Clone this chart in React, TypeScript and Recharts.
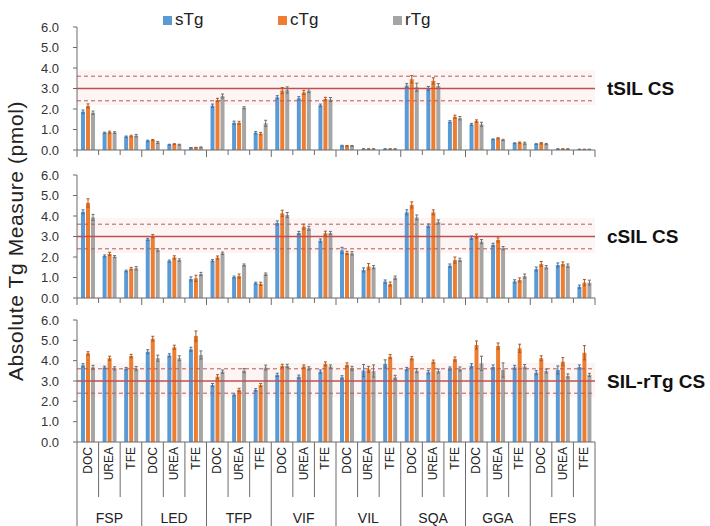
import { BarChart, Bar, XAxis, YAxis, ReferenceLine, ReferenceArea, ErrorBar } from 'recharts';

const groups = ['FSP', 'LED', 'TFP', 'VIF', 'VIL', 'SQA', 'GGA', 'EFS'];
const methods = ['DOC', 'UREA', 'TFE'];
const yTicks = [0, 1, 2, 3, 4, 5, 6];

// tSIL CS panel
const tS = [1.87, 0.84, 0.65, 0.45, 0.26, 0.11, 2.16, 1.33, 0.84, 2.57, 2.52, 2.18, 0.21, 0.05, 0.05, 3.14, 3.0, 1.38, 1.25, 0.52, 0.33, 0.29, 0.05, 0.03];
const tC = [2.15, 0.87, 0.68, 0.48, 0.29, 0.12, 2.44, 1.33, 0.8, 2.9, 2.81, 2.49, 0.2, 0.05, 0.05, 3.45, 3.37, 1.62, 1.41, 0.57, 0.36, 0.33, 0.05, 0.03];
const tR = [1.82, 0.85, 0.7, 0.37, 0.26, 0.13, 2.63, 2.06, 1.3, 2.93, 2.9, 2.46, 0.2, 0.05, 0.05, 3.06, 3.12, 1.55, 1.25, 0.49, 0.33, 0.29, 0.05, 0.03];
const tSe = [0.08, 0.03, 0.03, 0.03, 0.02, 0.01, 0.08, 0.08, 0.06, 0.08, 0.08, 0.06, 0.02, 0.01, 0.01, 0.1, 0.1, 0.05, 0.05, 0.02, 0.02, 0.02, 0.01, 0.01];
const tCe = [0.1, 0.05, 0.04, 0.03, 0.02, 0.01, 0.08, 0.07, 0.06, 0.15, 0.1, 0.08, 0.02, 0.01, 0.01, 0.18, 0.15, 0.08, 0.06, 0.03, 0.03, 0.03, 0.01, 0.01];
const tRe = [0.08, 0.04, 0.06, 0.05, 0.02, 0.02, 0.1, 0.05, 0.15, 0.15, 0.1, 0.1, 0.02, 0.01, 0.01, 0.2, 0.12, 0.08, 0.1, 0.03, 0.05, 0.03, 0.01, 0.01];

// cSIL CS panel
const cS = [4.2, 2.05, 1.32, 2.86, 1.8, 0.93, 1.82, 1.02, 0.72, 3.66, 3.17, 2.8, 2.32, 1.37, 0.8, 4.18, 3.53, 1.58, 2.94, 2.59, 0.81, 1.41, 1.61, 0.55];
const cC = [4.64, 2.15, 1.43, 3.02, 1.98, 0.96, 1.97, 1.07, 0.69, 4.13, 3.48, 3.16, 2.2, 1.53, 0.68, 4.54, 4.18, 1.85, 3.02, 2.83, 0.88, 1.66, 1.66, 0.75];
const cR = [3.93, 2.02, 1.45, 2.34, 1.85, 1.17, 2.18, 1.61, 1.16, 4.05, 3.4, 3.17, 2.18, 1.5, 0.99, 3.93, 3.71, 1.86, 2.75, 2.43, 1.07, 1.5, 1.58, 0.75];
const cSe = [0.1, 0.05, 0.04, 0.05, 0.05, 0.1, 0.05, 0.05, 0.05, 0.1, 0.08, 0.08, 0.15, 0.1, 0.08, 0.12, 0.08, 0.08, 0.08, 0.08, 0.08, 0.1, 0.1, 0.08];
const cCe = [0.2, 0.08, 0.06, 0.08, 0.08, 0.15, 0.08, 0.1, 0.08, 0.15, 0.12, 0.1, 0.08, 0.15, 0.1, 0.15, 0.12, 0.15, 0.1, 0.1, 0.1, 0.12, 0.1, 0.15];
const cRe = [0.15, 0.05, 0.08, 0.06, 0.06, 0.08, 0.06, 0.05, 0.06, 0.12, 0.1, 0.08, 0.08, 0.08, 0.08, 0.12, 0.1, 0.08, 0.1, 0.08, 0.1, 0.08, 0.08, 0.12];

// SIL-rTg CS panel
const rS = [3.77, 3.67, 3.61, 4.44, 4.26, 4.56, 2.8, 2.31, 2.56, 3.3, 3.21, 3.46, 3.18, 3.51, 3.84, 3.59, 3.43, 3.61, 3.75, 3.69, 3.67, 3.41, 3.54, 3.69];
const rC = [4.36, 4.12, 4.23, 5.08, 4.66, 5.21, 3.21, 2.56, 2.8, 3.74, 3.71, 3.84, 3.79, 3.57, 4.2, 4.12, 3.95, 4.08, 4.77, 4.72, 4.61, 4.12, 3.95, 4.39];
const rR = [3.67, 3.62, 3.61, 4.12, 4.12, 4.28, 3.46, 3.51, 3.66, 3.74, 3.62, 3.71, 3.62, 3.49, 3.18, 3.51, 3.49, 3.59, 3.87, 3.54, 3.71, 3.49, 3.25, 3.3];
const rSe = [0.08, 0.06, 0.06, 0.1, 0.08, 0.1, 0.08, 0.05, 0.06, 0.08, 0.08, 0.08, 0.08, 0.3, 0.2, 0.08, 0.08, 0.08, 0.1, 0.1, 0.1, 0.1, 0.2, 0.1];
const rCe = [0.08, 0.1, 0.08, 0.12, 0.1, 0.25, 0.1, 0.08, 0.08, 0.08, 0.08, 0.1, 0.1, 0.15, 0.1, 0.08, 0.08, 0.1, 0.2, 0.15, 0.2, 0.12, 0.2, 0.35];
const rRe = [0.1, 0.08, 0.1, 0.15, 0.12, 0.2, 0.08, 0.1, 0.12, 0.08, 0.08, 0.08, 0.1, 0.3, 0.1, 0.1, 0.1, 0.1, 0.35, 0.35, 0.1, 0.1, 0.1, 0.08];

const FONT = '"Liberation Sans", Arial, sans-serif';
const BLUE = '#5B9BD5';
const ORANGE = '#ED7D31';
const GRAY = '#A5A5A5';
const AXIS = '#6b6b6b';
const PLOT_W = 518;
const BAND = PLOT_W / 24;

const makeRows = (s: number[], c: number[], r: number[], se: number[], ce: number[], re: number[]) =>
  groups.flatMap((g, gi) =>
    methods.map((m, mi) => {
      const i = gi * 3 + mi;
      return { name: `${g}-${m}`, s: s[i], c: c[i], r: r[i], se: se[i], ce: ce[i], re: re[i] };
    })
  );

// small boundary ticks for the upper panels
const BoundaryTick = (props: any) => {
  const { x, y, index } = props;
  const h = index % 3 === 0 ? 7 : 5;
  return (
    <g>
      <line x1={x - BAND / 2} x2={x - BAND / 2} y1={y} y2={y + h} stroke={AXIS} />
      {index === 23 && <line x1={x + BAND / 2} x2={x + BAND / 2} y1={y} y2={y + 7} stroke={AXIS} />}
    </g>
  );
};

// two-level category axis for the bottom panel
const CategoryTick = (props: any) => {
  const { x, y, index } = props;
  const first = index % 3 === 0;
  const method = methods[index % 3];
  return (
    <g>
      <line x1={x - BAND / 2} x2={x - BAND / 2} y1={y} y2={first ? y + 84 : y + 55} stroke={AXIS} />
      {index === 23 && <line x1={x + BAND / 2} x2={x + BAND / 2} y1={y} y2={y + 84} stroke={AXIS} />}
      <text
        x={x + 4}
        y={y + 5}
        transform={`rotate(-90, ${x + 4}, ${y + 5})`}
        textAnchor="end"
        fontSize={12}
        fontFamily={FONT}
        fill="#222"
      >
        {method}
      </text>
      {index % 3 === 1 && (
        <text x={x} y={y + 81} textAnchor="middle" fontSize={14} fontFamily={FONT} fill="#222">
          {groups[Math.floor(index / 3)]}
        </text>
      )}
    </g>
  );
};

interface PanelProps {
  top: number;
  height: number;
  marginTop: number;
  axisHeight: number;
  rows: any[];
  label: string;
  bottomAxis?: boolean;
}

const Panel = ({ top, height, marginTop, axisHeight, rows, label, bottomAxis }: PanelProps) => (
  <div style={{ position: 'absolute', left: 0, top }}>
    <BarChart
      width={710}
      height={height}
      data={rows}
      margin={{ top: marginTop, right: 115, left: 40, bottom: 0 }}
      barSize={4}
      barGap={1}
    >
      <ReferenceArea y1={2.2} y2={3.9} fill="#fdf4f4" fillOpacity={1} stroke="none" />
      <XAxis
        dataKey="name"
        interval={0}
        height={axisHeight}
        tickSize={0}
        tickMargin={0}
        tickLine={false}
        axisLine={{ stroke: AXIS }}
        tick={bottomAxis ? <CategoryTick /> : <BoundaryTick />}
      />
      <YAxis
        domain={[0, 6]}
        ticks={yTicks}
        interval={0}
        width={37}
        tickSize={4}
        tickMargin={14}
        tickFormatter={(v: number) => v.toFixed(1)}
        tick={{ fontSize: 13, fill: '#333', fontFamily: FONT }}
        axisLine={{ stroke: AXIS }}
        tickLine={{ stroke: AXIS }}
      />
      <Bar dataKey="s" fill={BLUE} isAnimationActive={false}>
        <ErrorBar dataKey="se" width={1.5} stroke="#4a6f99" strokeWidth={1} direction="y" />
      </Bar>
      <Bar dataKey="c" fill={ORANGE} isAnimationActive={false}>
        <ErrorBar dataKey="ce" width={1.5} stroke="#a85a24" strokeWidth={1} direction="y" />
      </Bar>
      <Bar dataKey="r" fill={GRAY} isAnimationActive={false}>
        <ErrorBar dataKey="re" width={1.5} stroke="#6f6f6f" strokeWidth={1} direction="y" />
      </Bar>
      <ReferenceLine y={3.6} stroke="#b55a5a" strokeDasharray="4 3" />
      <ReferenceLine y={2.4} stroke="#b55a5a" strokeDasharray="4 3" />
      <ReferenceLine
        y={3}
        stroke="#c0504d"
        strokeWidth={1.5}
        label={{ value: label, position: 'right', offset: 12, fontSize: 19, fontWeight: 'bold', fill: '#111', fontFamily: FONT }}
      />
    </BarChart>
  </div>
);

const legendItems = [
  { name: 'sTg', color: BLUE, left: 163 },
  { name: 'cTg', color: ORANGE, left: 278 },
  { name: 'rTg', color: GRAY, left: 393 },
];

export default function App() {
  return (
    <div style={{ position: 'absolute', left: 0, top: 0, width: 710, height: 526, background: '#fff', fontFamily: FONT, overflow: 'hidden' }}>
      {legendItems.map((it) => (
        <div key={it.name} style={{ position: 'absolute', left: it.left, top: 10, display: 'flex', alignItems: 'center', fontSize: 17, color: '#222' }}>
          <span style={{ display: 'inline-block', width: 9, height: 9, background: it.color, marginRight: 3 }} />
          {it.name}
        </div>
      ))}
      <Panel top={0} height={160} marginTop={27} axisHeight={10} rows={makeRows(tS, tC, tR, tSe, tCe, tRe)} label="tSIL CS" />
      <Panel top={150} height={160} marginTop={25} axisHeight={12} rows={makeRows(cS, cC, cR, cSe, cCe, cRe)} label="cSIL CS" />
      <Panel top={300} height={226} marginTop={20} axisHeight={84} rows={makeRows(rS, rC, rR, rSe, rCe, rRe)} label="SIL-rTg CS" bottomAxis />
      <div
        style={{
          position: 'absolute',
          left: 16,
          top: 241,
          transform: 'translate(-50%, -50%) rotate(-90deg)',
          whiteSpace: 'nowrap',
          fontSize: 21,
          letterSpacing: 0.6,
          color: '#222',
        }}
      >
        Absolute Tg Measure (pmol)
      </div>
    </div>
  );
}
